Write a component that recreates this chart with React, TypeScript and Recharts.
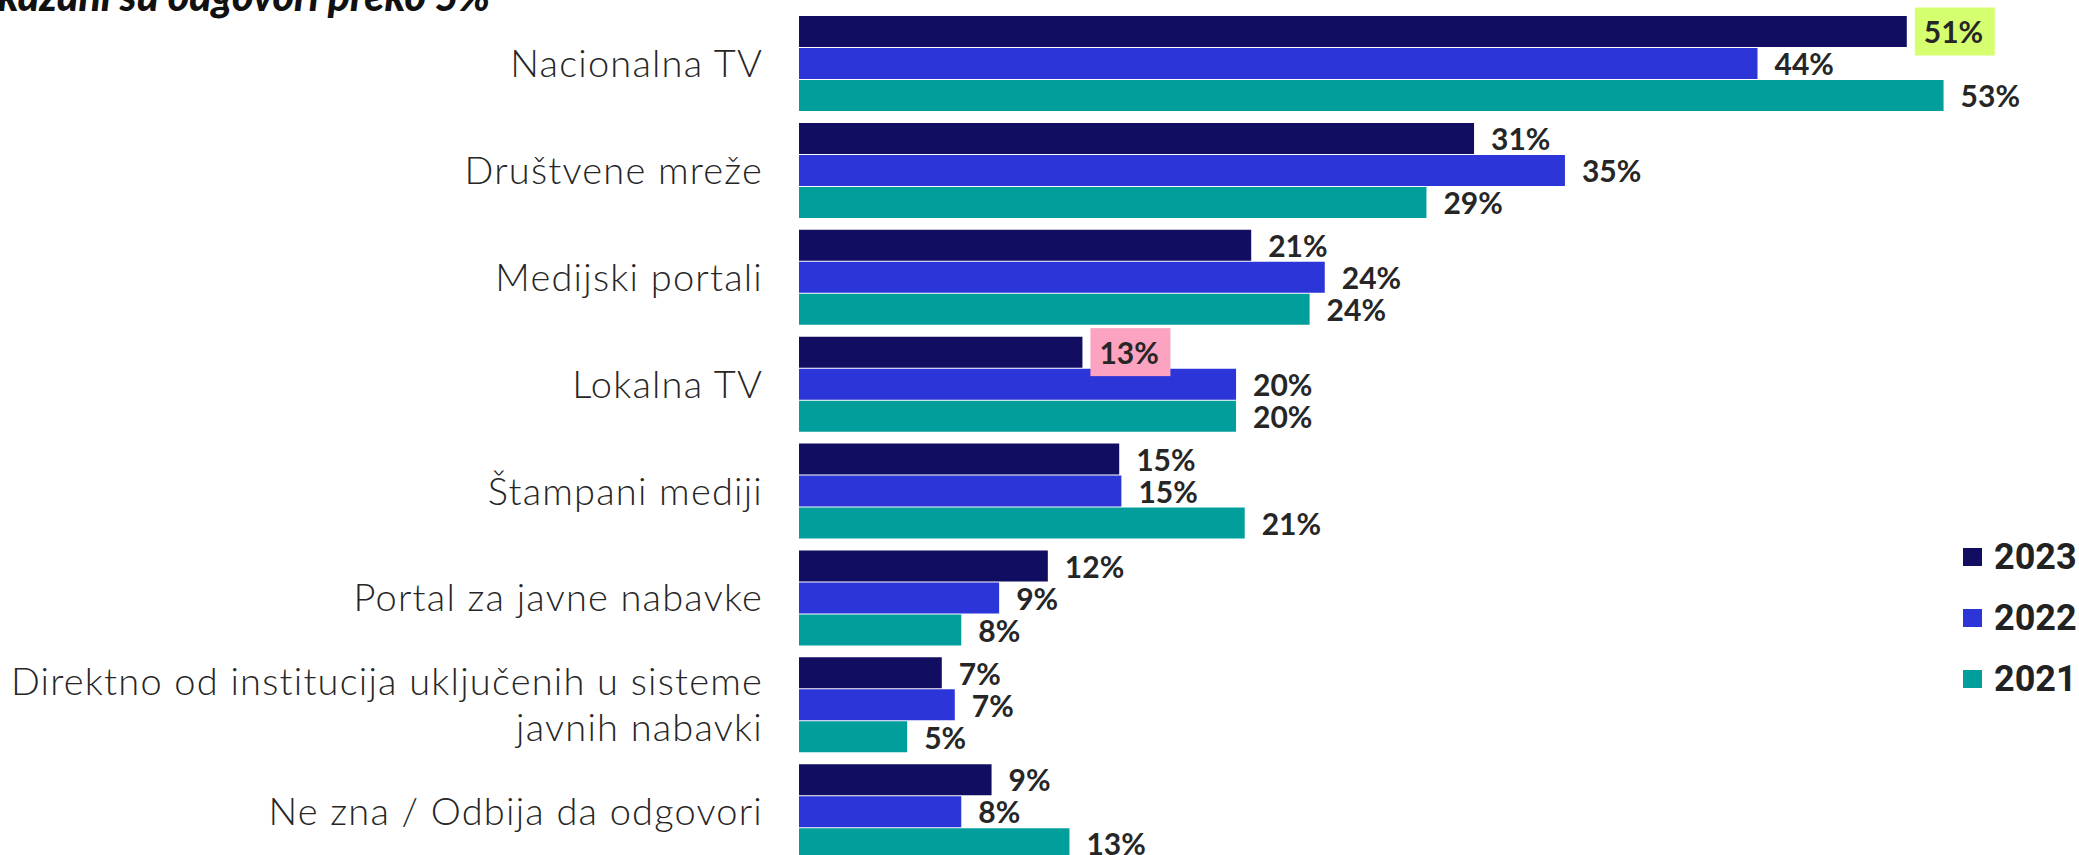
import { BarChart, Bar, XAxis, YAxis, LabelList, Legend } from "recharts";

const categories = [
  "Nacionalna TV",
  "Društvene mreže",
  "Medijski portali",
  "Lokalna TV",
  "Štampani mediji",
  "Portal za javne nabavke",
  "Direktno od institucija uključenih u sisteme javnih nabavki",
  "Ne zna / Odbija da odgovori",
];
// shares in % (labels show them rounded)
const values2023 = [51.2, 31.2, 20.9, 13.1, 14.8, 11.5, 6.6, 8.9];
const values2022 = [44.3, 35.4, 24.3, 20.2, 14.9, 9.25, 7.2, 7.5];
const values2021 = [52.9, 29, 23.6, 20.2, 20.6, 7.5, 5, 12.5];
const seriesNames = ["2023", "2022", "2021"];

// highlighted 2023 labels
const highlights: Record<string, string> = {
  "Nacionalna TV": "#d6ff70",
  "Lokalna TV": "#fba3c1",
};

const data = categories.map((name, i) => ({
  name,
  y2023: values2023[i],
  y2022: values2022[i],
  y2021: values2021[i],
}));

const TEXT = "#262626";

const CategoryTick = (props: any) => {
  const { x, y, payload } = props;
  const words = String(payload.value).split(" ");
  const lines: string[] = [];
  let cur = "";
  words.forEach((w) => {
    const next = cur ? cur + " " + w : w;
    if (next.length > 45) {
      lines.push(cur);
      cur = w;
    } else cur = next;
  });
  lines.push(cur);
  const lh = 46;
  const start = -((lines.length - 1) * lh) / 2;
  return (
    <text
      x={x}
      y={y}
      textAnchor="end"
      fill={TEXT}
      fontFamily="Lato"
      fontWeight={300}
      fontSize={38}
      letterSpacing={1.2}
    >
      {lines.map((l, i) => (
        <tspan key={i} x={x} y={y + start + i * lh} dy="0.36em">
          {l}
        </tspan>
      ))}
    </text>
  );
};

const makeLabel = (series: string) => (props: any) => {
  const { x, y, width, height, value, index } = props;
  const endX = Number(x) + Number(width);
  const cy = Number(y) + Number(height) / 2;
  const hl = series === "2023" ? highlights[categories[index]] : undefined;
  return (
    <g>
      {hl && <rect x={endX + 8} y={cy - 24} width={80} height={48} fill={hl} />}
      <text
        x={endX + 17}
        y={cy + 1}
        dy="0.36em"
        fill={TEXT}
        fontFamily="Lato"
        fontWeight={700}
        fontSize={30}
      >
        {Math.round(Number(value))}%
      </text>
    </g>
  );
};

const renderLegend = (props: any) => {
  const items = [...(props.payload || [])].sort(
    (a: any, b: any) => seriesNames.indexOf(a.value) - seriesNames.indexOf(b.value)
  );
  return (
    <div>
      {items.map((p: any) => (
        <div
          key={p.value}
          style={{ display: "flex", alignItems: "center", height: 61 }}
        >
          <div style={{ width: 19, height: 18, background: p.color, marginRight: 12 }} />
          <span
            style={{
              fontFamily: "Roboto",
              fontWeight: 700,
              fontSize: 36,
              color: "#222",
              lineHeight: "36px",
            }}
          >
            {p.value}
          </span>
        </div>
      ))}
    </div>
  );
};

export default function App() {
  return (
    <div
      style={{
        position: "absolute",
        left: 0,
        top: 0,
        width: 2079,
        height: 855,
        overflow: "hidden",
        background: "#fff",
      }}
    >
      <svg
        width={2079}
        height={40}
        style={{ position: "absolute", left: 0, top: 0, zIndex: 2 }}
      >
        <text
          x={490}
          y={11}
          textAnchor="end"
          fontFamily="Lato"
          fontWeight={900}
          fontStyle="italic"
          fontSize={41}
          fill="#111"
        >
          Prikazani su odgovori preko 5%
        </text>
      </svg>
      <BarChart
        width={2079}
        height={865}
        data={data}
        layout="vertical"
        margin={{ top: 10, right: 90, bottom: 0, left: 0 }}
        barSize={31}
        barGap={1}
      >
        <XAxis type="number" domain={[0, 55]} hide />
        <YAxis
          type="category"
          dataKey="name"
          width={799}
          axisLine={false}
          tickLine={false}
          tickSize={0}
          tickMargin={36}
          interval={0}
          tick={<CategoryTick />}
        />
        <Legend
          layout="vertical"
          align="center"
          verticalAlign="middle"
          content={renderLegend}
          wrapperStyle={{ position: "absolute", left: 1963, top: 526, width: 116 }}
        />
        <Bar dataKey="y2023" name="2023" fill="#110e62" isAnimationActive={false}>
          <LabelList dataKey="y2023" content={makeLabel("2023")} />
        </Bar>
        <Bar dataKey="y2022" name="2022" fill="#2c35d7" isAnimationActive={false}>
          <LabelList dataKey="y2022" content={makeLabel("2022")} />
        </Bar>
        <Bar dataKey="y2021" name="2021" fill="#029e9b" isAnimationActive={false}>
          <LabelList dataKey="y2021" content={makeLabel("2021")} />
        </Bar>
      </BarChart>
    </div>
  );
}
